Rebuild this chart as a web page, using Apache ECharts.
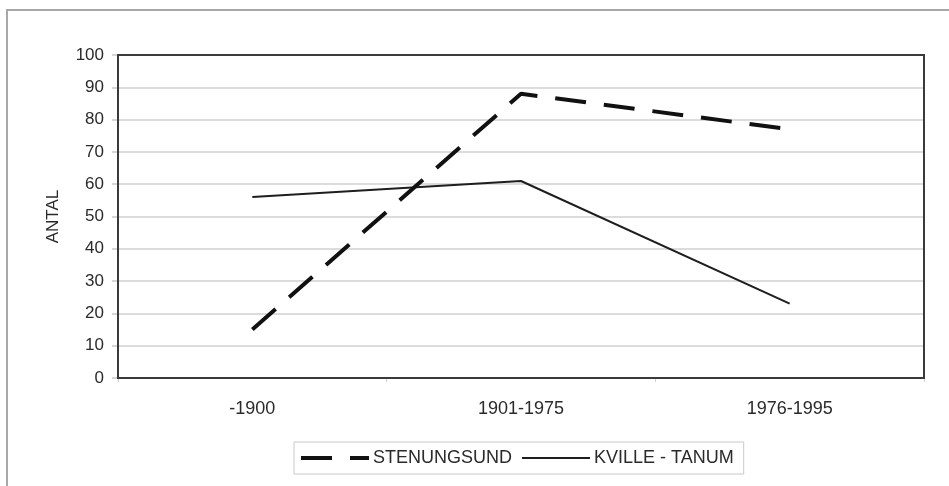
<!DOCTYPE html>
<html>
<head>
<meta charset="utf-8">
<script src="https://cdn.jsdelivr.net/npm/echarts@6/dist/echarts.min.js"></script>
<style>
  html, body { margin: 0; padding: 0; background: #fff; }
  #chart { width: 949px; height: 486px; }
</style>
</head>
<body>
<div id="chart"></div>
<script>
// Periods on the x axis
const periods = ['-1900', '1901-1975', '1976-1995'];
// Counts per period
const stenungsund = [15, 88, 77];
const kvilleTanum = [56, 61, 23];
// Y axis range
const yMin = 0;
const yMax = 100;
const yStep = 10;

const FONT = 'Liberation Sans, Arial, sans-serif';
const TEXT = '#2a2a2a';

const GRID = { left: 118, top: 55, right: 25, bottom: 108 };
const W = 949, H = 486;

const DASHED = { color: '#111', width: 4, type: [31, 18] };
const SOLID = { color: '#1e1e1e', width: 2, type: 'solid' };

const chart = echarts.init(document.getElementById('chart'), null, { renderer: 'canvas' });

chart.setOption({
  backgroundColor: '#fff',
  animation: false,
  graphic: [
    {
      // outer frame
      type: 'rect',
      shape: { x: 7, y: 10, width: 960, height: 500 },
      style: { fill: 'none', stroke: '#a8a8a8', lineWidth: 2 },
      silent: true,
      z: -1
    },
    {
      // plot area frame drawn above the grid lines
      type: 'rect',
      shape: {
        x: GRID.left, y: GRID.top,
        width: W - GRID.left - GRID.right,
        height: H - GRID.top - GRID.bottom
      },
      style: { fill: 'none', stroke: '#3a3a3a', lineWidth: 2 },
      silent: true,
      z: 10
    }
  ],
  grid: {
    left: GRID.left, top: GRID.top, right: GRID.right, bottom: GRID.bottom,
    show: false,
    containLabel: false
  },
  legend: {
    left: 294,
    top: 442,
    padding: [7, 10, 7, 5],
    borderColor: '#c8c8c8',
    borderWidth: 1,
    itemWidth: 68,
    itemHeight: 14,
    itemGap: 9,
    itemStyle: { opacity: 0 },
    textStyle: { fontFamily: FONT, fontSize: 18, color: TEXT, padding: [0, 0, 0, -1] },
    data: [
      { name: 'STENUNGSUND', lineStyle: DASHED },
      { name: 'KVILLE - TANUM', lineStyle: SOLID }
    ]
  },
  xAxis: {
    type: 'category',
    data: periods,
    boundaryGap: true,
    axisLine: { show: true, lineStyle: { color: '#3a3a3a', width: 2 } },
    axisTick: { show: true, length: 4, lineStyle: { color: '#cfcfcf', width: 1 } },
    axisLabel: { margin: 22, fontFamily: FONT, fontSize: 18, color: TEXT },
    splitLine: { show: false }
  },
  yAxis: {
    type: 'value',
    min: yMin,
    max: yMax,
    interval: yStep,
    name: 'ANTAL',
    nameLocation: 'middle',
    nameRotate: 90,
    nameGap: 56,
    nameTextStyle: { fontFamily: FONT, fontSize: 17, color: TEXT },
    axisLine: { show: true, lineStyle: { color: '#3a3a3a', width: 2 } },
    axisTick: { show: true, length: 6, lineStyle: { color: '#d6d6d6', width: 2 } },
    axisLabel: { margin: 14, fontFamily: FONT, fontSize: 17, color: TEXT },
    splitLine: { show: true, lineStyle: { color: '#dcdcdc', width: 2 } }
  },
  series: [
    {
      name: 'STENUNGSUND',
      type: 'line',
      data: stenungsund,
      symbol: 'none',
      lineStyle: DASHED,
      itemStyle: { color: '#111' },
      z: 3
    },
    {
      name: 'KVILLE - TANUM',
      type: 'line',
      data: kvilleTanum,
      symbol: 'none',
      lineStyle: SOLID,
      itemStyle: { color: '#1e1e1e' },
      z: 2
    }
  ]
});
</script>
</body>
</html>
